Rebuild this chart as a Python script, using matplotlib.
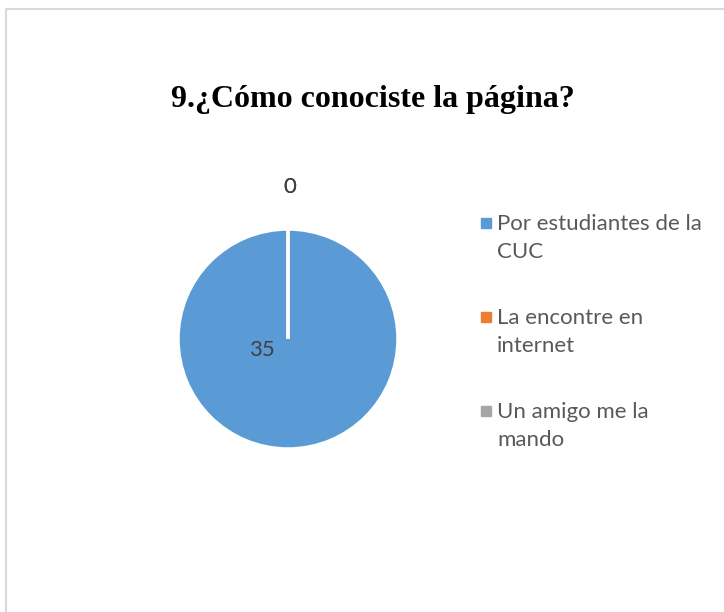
import matplotlib.pyplot as plt
from matplotlib.patches import Rectangle
from matplotlib.lines import Line2D

# Datos
categorias = ['Por estudiantes de la\nCUC', 'La encontre en\ninternet', 'Un amigo me la\nmando']
valores = [35, 0, 0]
colores = ['#5B9BD5', '#ED7D31', '#A5A5A5']
titulo = '9.¿Cómo conociste la página?'

fig = plt.figure(figsize=(7.24, 6.12), dpi=100)

# Borde gris del gráfico (solo izquierda y arriba visibles)
fig.add_artist(Rectangle((5.5 / 724, -0.1), 1.2, (612 - 8.5) / 612 + 0.1,
                         transform=fig.transFigure, fill=False,
                         edgecolor='#D9D9D9', linewidth=1.5))

fig.text(373 / 724, 1 - 107 / 612, titulo, ha='center', va='baseline',
         fontsize=23, fontweight='bold', family='Liberation Serif', color='black')

# Pastel
ax = fig.add_axes([178 / 724, 1 - 449 / 612, 220 / 724, 220 / 612])
wedges, _ = ax.pie(valores, colors=colores, startangle=90, counterclock=False,
                   radius=1, wedgeprops=dict(edgecolor='white', linewidth=2.5))
ax.set_xlim(-1, 1)
ax.set_ylim(-1, 1)
ax.axis('off')

# Etiquetas de datos
ax.text(-0.24, -0.15, str(valores[0]), ha='center', va='baseline',
        fontsize=16, family='Lato', color='#404040')
for v in valores[1:]:
    ax.text(0.02, 1.33, str(v), ha='center', va='baseline',
            fontsize=16, family='Lato', color='#404040')

# Leyenda (va='baseline' se alinea con la última línea del texto)
y0 = 229
for i, (cat, col) in enumerate(zip(categorias, colores)):
    y = y0 + i * 94
    fig.add_artist(Line2D([485.5 / 724], [1 - (y - 6.5) / 612], marker='s', markersize=6.5,
                          color=col, linestyle='none', transform=fig.transFigure))
    fig.text(497 / 724, 1 - (y + 29) / 612, cat, ha='left', va='baseline',
             fontsize=16, family='Lato', color='#595959', linespacing=1.52)

fig.savefig('out.png', dpi=100)
